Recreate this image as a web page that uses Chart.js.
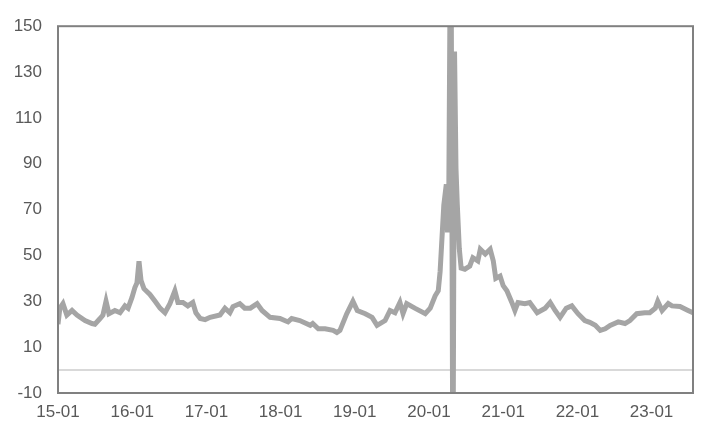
<!DOCTYPE html>
<html>
<head>
<meta charset="utf-8">
<script src="https://cdn.jsdelivr.net/npm/chart.js@4/dist/chart.umd.min.js"></script>
<style>
  html, body { margin: 0; padding: 0; background: #fff; }
  #wrap { width: 716px; height: 437px; }
</style>
</head>
<body>
<div id="wrap"><canvas id="vol_chart"></canvas></div>
<script>
// values
var dates = [
  '2015-01-01','2015-01-10','2015-01-25','2015-02-14','2015-03-09','2015-04-03','2015-05-12','2015-06-16','2015-06-30','2015-07-25',
  '2015-08-09','2015-08-24','2015-09-08','2015-10-07','2015-11-02','2015-11-26','2015-12-11','2015-12-30','2016-01-14','2016-01-24',
  '2016-02-04','2016-02-14','2016-02-28','2016-03-27','2016-04-22','2016-05-16','2016-06-10','2016-07-04','2016-07-28','2016-08-13',
  '2016-09-07','2016-10-01','2016-10-25','2016-11-10','2016-12-01','2016-12-25','2017-01-19','2017-03-07','2017-04-01','2017-04-25',
  '2017-05-10','2017-06-13','2017-07-07','2017-08-04','2017-09-07','2017-10-01','2017-11-10','2017-12-28','2018-02-07','2018-02-25',
  '2018-04-04','2018-05-25','2018-06-07','2018-07-04','2018-08-07','2018-09-16','2018-10-04','2018-10-19','2018-11-22','2018-12-22',
  '2019-01-13','2019-02-22','2019-03-25','2019-04-19','2019-05-28','2019-06-22','2019-07-16','2019-08-10','2019-08-25','2019-09-13',
  '2019-10-22','2019-12-13','2020-01-07','2020-02-01','2020-02-16','2020-02-25','2020-03-04','2020-03-13','2020-03-25','2020-03-31',
  '2020-04-07','2020-04-17','2020-04-27','2020-05-05','2020-05-12','2020-05-18','2020-05-28','2020-06-07','2020-06-25','2020-07-19',
  '2020-08-04','2020-08-28','2020-09-10','2020-10-04','2020-10-28','2020-11-13','2020-11-25','2020-12-16','2021-01-01','2021-01-19',
  '2021-02-13','2021-02-28','2021-03-13','2021-04-16','2021-05-10','2021-06-16','2021-07-25','2021-08-19','2021-09-13','2021-10-07',
  '2021-11-07','2021-12-04','2022-01-04','2022-02-07','2022-03-01','2022-03-28','2022-04-22','2022-05-16','2022-06-10','2022-07-19',
  '2022-08-22','2022-09-16','2022-10-19','2022-11-28','2022-12-22','2023-01-19','2023-02-01','2023-02-22','2023-03-22','2023-04-10',
  '2023-05-19','2023-06-28','2023-07-22'
];
var values = [
  20, 27, 29, 24, 26, 24, 21.6, 20.3, 20, 22.5,
  24, 30, 24.6, 26, 25, 28, 27, 31.7, 36, 38,
  47.5, 39, 35.5, 33, 30, 27, 25, 29, 34.6, 29.5,
  29.5, 28, 29.5, 25, 22.5, 22, 23, 24, 27, 25,
  27.7, 29, 27, 27, 29, 26, 23, 22.5, 21, 22.5,
  21.6, 19.5, 20.3, 18, 18, 17.3, 16.4, 17.3, 24.6, 30,
  26, 24.6, 23, 19.5, 21.6, 26, 25, 29.5, 24.6, 29,
  27, 24.6, 27, 32.4, 34.6, 43, 57.5, 72, 81, 60,
  75, 220, -60, 139, 88, 73, 53, 44.5, 44, 45.4,
  49, 47.6, 52.7, 50.6, 52.7, 47.6, 40, 41, 36.8, 34.6,
  29.5, 26, 29.5, 29, 29.5, 25, 27, 29.5, 26, 23,
  27, 28, 24.6, 21.6, 20.8, 19.5, 17.3, 18, 19.5, 21,
  20.3, 21.6, 24.6, 25, 25, 27, 30, 26, 29, 28,
  27.7, 26, 25
];
var tickYears = [15, 16, 17, 18, 19, 20, 21, 22, 23];
var startYear = 2015;
var endDate = '2023-07-22';

function toMonths(d) {
  var p = d.split('-').map(Number);
  return (p[0] - startYear) * 12 + (p[1] - 1) + (p[2] - 1) / 30;
}

var points = dates.map((d, i) => ({x: toMonths(d), y: values[i]}));

var frame = {
  id: 'frame',
  beforeDatasetsDraw(chart) {
    var c = chart.ctx, a = chart.chartArea, y0 = chart.scales.y.getPixelForValue(0);
    c.save();
    c.strokeStyle = '#d9d9d9';
    c.lineWidth = 2;
    c.beginPath();
    c.moveTo(a.left, y0);
    c.lineTo(a.right, y0);
    c.stroke();
    c.restore();
  },
  afterDatasetsDraw(chart) {
    var c = chart.ctx, a = chart.chartArea;
    c.save();
    c.strokeStyle = '#808080';
    c.lineWidth = 2;
    c.strokeRect(a.left, a.top, a.right - a.left, a.bottom - a.top);
    c.restore();
  }
};

var ctx = document.getElementById('vol_chart');

new Chart(ctx, {
  type: 'line',
  data: {
    datasets: [{
      data: points,
      borderColor: '#a5a5a5',
      borderWidth: 5,
      pointRadius: 0,
      tension: 0
    }]
  },
  options: {
    responsive: true,
    maintainAspectRatio: false,
    animation: false,
    layout: { padding: { top: 23, right: 23, left: 0, bottom: 0 } },
    plugins: { legend: { display: false }, tooltip: { enabled: false } },
    scales: {
      x: {
        type: 'linear',
        min: 0,
        max: toMonths(endDate),
        grid: { display: false, drawTicks: false },
        border: { display: false },
        afterBuildTicks: s => { s.ticks = tickYears.map(y => ({value: (y + 2000 - startYear) * 12})); },
        afterFit: s => { s.height = 44; },
        ticks: {
          padding: 9,
          maxRotation: 0,
          autoSkip: false,
          color: '#595959',
          font: { family: 'Liberation Sans', size: 17 },
          callback: v => String(startYear - 2000 + v / 12) + '-01'
        }
      },
      y: {
        min: -10,
        max: 150,
        grid: { display: false, drawTicks: false },
        border: { display: false },
        afterFit: s => { s.width = 58; },
        ticks: {
          stepSize: 20,
          padding: 16,
          color: '#595959',
          font: { family: 'Liberation Sans', size: 17 }
        }
      }
    }
  },
  plugins: [frame]
});
</script>
</body>
</html>
